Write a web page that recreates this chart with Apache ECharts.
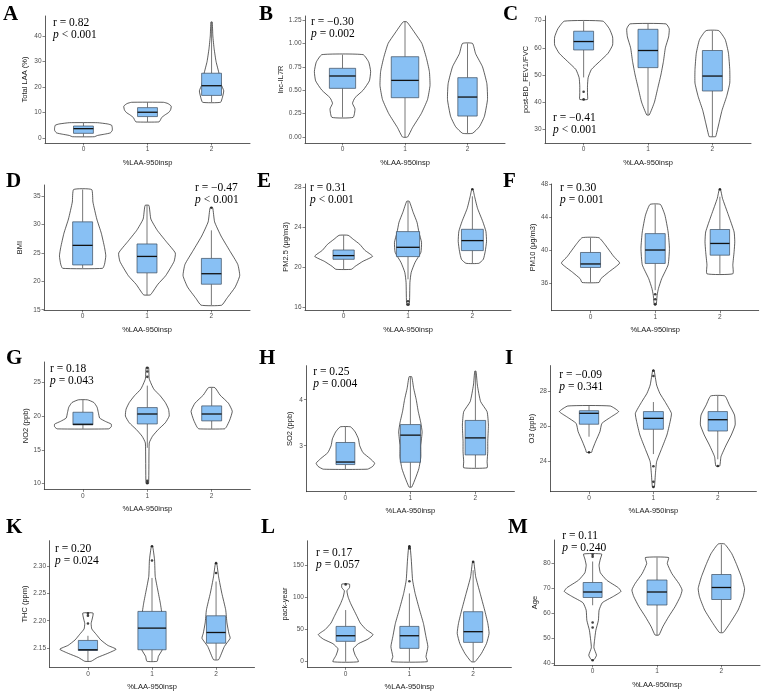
<!DOCTYPE html>
<html><head><meta charset="utf-8">
<script src="https://cdn.jsdelivr.net/npm/echarts@6/dist/echarts.min.js"></script>
<style>html,body{margin:0;padding:0;background:#fff}#c{width:768px;height:693px}</style>
</head><body><div id="c"></div>
<script>
// ---------- DATA ----------
const categories = [0, 1, 2];
const xAxisTitle = '%LAA-950insp';

// violin profiles per group: [value, half-width in category units], top to bottom
const violinA = [
  [[6.0,0.22],[5.5,0.38],[5.0,0.44],[4.0,0.45],[3.0,0.45],[2.0,0.42],[1.5,0.33],[1.0,0.22],[0.5,0.17]],
  [[14.0,0.25],[13.5,0.32],[12.5,0.37],[11,0.36],[10,0.33],[9,0.27],[8,0.22],[7,0.2],[6.3,0.18]],
  [[45.5,0.01],[40,0.02],[35,0.04],[30,0.07],[25,0.12],[21,0.15],[18.5,0.19],[16,0.17],[14,0.14]]
];
const boxA = [[0.5,1.83,3.66,4.7,6.0],[6.3,8.4,10.1,11.9,14.0],[14.0,16.7,20.5,25.4,45.5]];
const outA = [];

const violinB = [
  [[0.88,0.33],[0.80,0.42],[0.70,0.45],[0.60,0.43],[0.50,0.33],[0.42,0.2],[0.36,0.16],[0.30,0.2],[0.21,0.17]],
  [[1.23,0.03],[1.1,0.17],[1.0,0.27],[0.85,0.34],[0.7,0.39],[0.55,0.4],[0.4,0.36],[0.25,0.26],[0.1,0.12],[0.0,0.04]],
  [[1.0,0.08],[0.89,0.13],[0.75,0.24],[0.57,0.31],[0.4,0.32],[0.22,0.27],[0.11,0.19],[0.04,0.08]]
];
const boxB = [[0.21,0.52,0.652,0.734,0.88],[0.0,0.42,0.605,0.858,1.23],[0.04,0.224,0.427,0.634,1.0]];
const outB = [];

const violinC = [
  [[69.8,0.3],[67,0.4],[64,0.45],[61,0.45],[58,0.38],[55,0.25],[52,0.12],[49,0.07],[46,0.06],[43,0.06],[41,0.06]],
  [[68.8,0.28],[67,0.33],[64,0.32],[60,0.27],[55,0.24],[50,0.2],[45,0.15],[40,0.1],[35.3,0.02]],
  [[66.3,0.1],[63,0.2],[58,0.25],[52,0.27],[47,0.27],[42,0.22],[37,0.15],[32,0.1],[28,0.06],[27.3,0.05]]
];
const boxC = [[49.1,59.2,62.3,66.1,69.8],[35.3,52.7,59.0,66.8,68.8],[27.3,44.1,49.6,59.0,66.3]];
const outC = [[0,43.8],[0,41.0]];

const violinD = [
  [[36.2,0.14],[34,0.16],[31,0.22],[28.5,0.29],[26,0.34],[24.5,0.36],[23,0.34],[22.3,0.31]],
  [[33.4,0.03],[31,0.06],[29,0.16],[27,0.3],[25,0.44],[23.5,0.42],[21,0.29],[19.5,0.17],[18,0.08],[17.6,0.05]],
  [[33.0,0.02],[30.5,0.05],[28,0.15],[25.5,0.28],[23,0.41],[21,0.44],[19,0.37],[17,0.24],[15.8,0.16]]
];
const boxD = [[22.3,22.9,26.35,30.5,36.2],[17.6,21.5,24.4,26.6,33.4],[15.8,19.5,21.35,24.05,29.0]];
const outD = [[2,33.0]];

const violinE = [
  [[23.2,0.07],[22.8,0.15],[22.3,0.25],[21.7,0.33],[21.1,0.45],[20.6,0.3],[20.1,0.18],[19.8,0.12]],
  [[26.6,0.02],[25.5,0.08],[24.5,0.14],[23.5,0.17],[22.5,0.21],[21.5,0.2],[20.5,0.11],[19.5,0.05],[18.5,0.03],[16.2,0.02]],
  [[27.8,0.01],[27.2,0.03],[25.9,0.08],[24.6,0.16],[23.6,0.21],[22.6,0.22],[21.6,0.2],[20.8,0.17],[20.4,0.1]]
];
const boxE = [[19.8,20.8,21.17,21.73,23.2],[18.8,21.07,22.0,23.57,26.57],[20.4,21.67,22.67,23.8,27.1]];
const outE = [[1,16.3],[1,16.6],[2,27.8]];

const violinF = [
  [[41.5,0.13],[40.6,0.23],[39.2,0.36],[38.4,0.45],[37.3,0.28],[36.5,0.16],[36.04,0.13]],
  [[45.56,0.08],[44.26,0.15],[42.2,0.2],[40.2,0.22],[38.2,0.2],[36.5,0.1],[35.3,0.05],[34.5,0.03],[33.3,0.015]],
  [[47.4,0.01],[46.3,0.04],[44.3,0.13],[42.2,0.22],[41.0,0.23],[39.8,0.22],[38.2,0.2],[37.1,0.2]]
];
const boxF = [[36.04,37.87,38.3,39.7,41.5],[35.1,38.36,40.0,42.0,45.56],[37.1,39.37,40.8,42.5,46.5]];
const outF = [[1,34.6],[1,34.0],[1,33.4],[2,47.4]];

const violinG = [
  [[22.4,0.07],[22.0,0.17],[21.3,0.22],[20.5,0.24],[19.7,0.26],[19.2,0.35],[18.8,0.44],[18.4,0.44],[18.1,0.4]],
  [[27.2,0.02],[25.5,0.03],[24,0.1],[23,0.2],[22,0.28],[21,0.33],[20,0.34],[19,0.28],[18,0.17],[17,0.08],[16,0.03],[10,0.02]],
  [[24.2,0.05],[23.1,0.13],[21.9,0.26],[20.7,0.32],[19.4,0.28],[18.4,0.23],[18.1,0.2]]
];
const boxG = [[18.1,18.69,18.78,20.56,22.4],[15.3,18.83,20.3,21.25,24.5],[18.1,19.28,20.3,21.5,24.2]];
const outG = [[1,27.1],[1,26.6],[1,25.8],[1,10.1],[1,10.4]];

const violinH = [
  [[3.41,0.08],[3.3,0.15],[3.15,0.2],[3.0,0.22],[2.85,0.27],[2.72,0.38],[2.62,0.45],[2.55,0.42],[2.49,0.34]],
  [[4.5,0.02],[4.25,0.05],[4.0,0.09],[3.75,0.12],[3.5,0.16],[3.3,0.18],[3.0,0.16],[2.75,0.16],[2.5,0.13],[2.3,0.08],[2.1,0.02]],
  [[4.62,0.01],[4.32,0.03],[3.96,0.08],[3.74,0.18],[3.45,0.2],[3.09,0.19],[2.87,0.19],[2.65,0.18],[2.52,0.18]]
];
const boxH = [[2.49,2.59,2.645,3.07,3.41],[2.1,2.64,3.23,3.46,4.5],[2.52,2.8,3.17,3.55,4.62]];
const outH = [];

const violinI = [
  [[27.17,0.33],[26.85,0.46],[26.56,0.35],[26.17,0.2],[25.7,0.17],[25.1,0.1],[24.63,0.05],[24.5,0.04]],
  [[29.25,0.01],[28.38,0.05],[27.9,0.1],[27.42,0.18],[26.75,0.28],[26.27,0.26],[25.5,0.21],[24.73,0.13],[23.96,0.05],[23.2,0.03],[22.5,0.015]],
  [[27.75,0.11],[27.23,0.18],[26.65,0.26],[26.08,0.27],[25.5,0.21],[24.92,0.13],[24.25,0.05],[23.71,0.03]]
];
const boxI = [[25.4,26.12,26.75,26.9,27.17],[24.4,25.83,26.46,26.85,27.4],[24.1,25.73,26.38,26.85,27.75]];
const outI = [[0,24.5],[1,29.2],[1,28.9],[1,22.5],[1,22.8],[1,23.7],[2,23.71]];

const violinK = [
  [[2.214,0.08],[2.205,0.07],[2.195,0.05],[2.185,0.06],[2.175,0.13],[2.165,0.2],[2.155,0.31],[2.148,0.44],[2.14,0.3],[2.133,0.15],[2.126,0.05]],
  [[2.336,0.01],[2.311,0.04],[2.281,0.05],[2.256,0.09],[2.232,0.13],[2.208,0.16],[2.183,0.17],[2.159,0.17],[2.147,0.16],[2.135,0.1],[2.126,0.08]],
  [[2.305,0.01],[2.28,0.04],[2.25,0.09],[2.22,0.15],[2.196,0.17],[2.177,0.2],[2.168,0.22],[2.153,0.13],[2.129,0.04]]
];
const boxK = [[2.126,2.1457,2.147,2.164,2.1725],[2.126,2.147,2.1865,2.217,2.278],[2.129,2.159,2.1785,2.209,2.2715]];
const outK = [[0,2.213],[0,2.209],[0,2.195],[1,2.336],[1,2.31],[2,2.305],[2,2.287]];

const violinL = [
  [[120.5,0.06],[115,0.06],[110,0.02],[100,0.04],[90,0.08],[80,0.13],[70,0.18],[60,0.23],[50,0.32],[42,0.43],[35,0.35],[28,0.2],[20,0.12],[10,0.15],[0,0.2]],
  [[179.5,0.01],[157.8,0.03],[126.7,0.05],[106,0.09],[80.2,0.16],[59.5,0.22],[38.8,0.26],[23.3,0.29],[7.8,0.26],[0,0.28]],
  [[155.2,0.01],[131.9,0.04],[106,0.11],[80.2,0.18],[59.5,0.23],[44,0.25],[28.4,0.21],[12.9,0.13],[0,0.03]]
];
const boxL = [[0,31.6,40.3,54.8,80.2],[0,20.7,40.3,54.8,106],[0,30,46.6,77.6,142]];
const outL = [[0,120],[1,179],[1,176],[1,125],[2,155]];

const violinM = [
  [[83.5,0.14],[81.5,0.12],[79,0.1],[76,0.12],[73,0.22],[70,0.4],[68.5,0.44],[66.5,0.32],[64,0.15],[61,0.1],[57,0.09],[53,0.05],[49,0.03],[46,0.02],[43,0.06],[41.5,0.03],[41,0.01]],
  [[82.1,0.18],[79.7,0.16],[75.7,0.23],[71.7,0.34],[69.1,0.39],[66.4,0.36],[62.4,0.28],[58.4,0.18],[54.4,0.09],[51.1,0.03]],
  [[87.5,0.05],[83.7,0.16],[79.7,0.23],[74.4,0.31],[69.7,0.36],[66.4,0.34],[61.1,0.26],[55.7,0.13],[52.1,0.03]]
];
const boxM = [[63,66.1,68.3,72.1,80.5],[51.1,63.1,68.3,73.1,82.1],[52.1,65.3,70.1,75.3,87.3]];
const outM = [[0,83.2],[0,82.4],[0,56.1],[0,54.1],[0,41.0]];

const yTitles = ['Total LAA (%)','lnc-IL7R','post-BD_FEV1/FVC','BMI','PM2.5 (μg/m3)','PM10 (μg/m3)','NO2 (ppb)','SO2 (ppb)','O3 (ppb)','THC (ppm)','pack-year','Age'];
const yTickValues = [[0,10,20,30,40],[0,0.25,0.5,0.75,1,1.25],[30,40,50,60,70],[15,20,25,30,35],[16,20,24,28],[36,40,44,48],[10,15,20,25],[3,4],[24,26,28],[2.15,2.2,2.25,2.3],[0,50,100,150],[40,50,60,70,80]];
const rValues = ['0.82','−0.30','−0.41','−0.47','0.31','0.30','0.18','0.25','−0.09','0.20','0.17','0.11'];
const pValues = ['< 0.001','= 0.002','< 0.001','< 0.001','< 0.001','= 0.001','= 0.043','= 0.004','= 0.341','= 0.024','= 0.057','= 0.240'];
const letters = ['A','B','C','D','E','F','G','H','I','K','L','M'];

// ---------- LAYOUT ----------
const P = [
 {v:violinA,b:boxA,o:outA,bw:[0.155,0.155,0.155],left:45,top:16,w:205,h:127,ymin:-1.96,ymax:47.84,dec:0,yd:20,lx:3,ly:15,rx:53,ry:23},
 {v:violinB,b:boxB,o:outB,bw:[0.21,0.22,0.155],left:305,top:16,w:200,h:127,ymin:-0.064,ymax:1.293,dec:2,yd:21.7,lx:259,ly:15,rx:311,ry:22},
 {v:violinC,b:boxC,o:outC,bw:[0.155,0.155,0.155],left:545,top:16,w:206,h:127,ymin:24.96,ymax:71.7,dec:0,yd:17.7,lx:503,ly:15,rx:553,ry:118.3},
 {v:violinD,b:boxD,o:outD,bw:[0.155,0.155,0.155],left:44,top:185,w:206,h:125,ymin:14.95,ymax:37.0,dec:0,yd:24,lx:6,ly:182,rx:195,ry:187.7},
 {v:violinE,b:boxE,o:outE,bw:[0.165,0.18,0.17],left:305,top:184,w:206,h:126,ymin:15.73,ymax:28.33,dec:0,yd:18.3,lx:257,ly:182,rx:310,ry:188.3},
 {v:violinF,b:boxF,o:outF,bw:[0.155,0.155,0.15],left:551.7,top:184,w:207,h:126.7,ymin:32.6,ymax:48.05,dec:0,yd:19,lx:503,ly:182,rx:560,ry:188.3},
 {v:violinG,b:boxG,o:outG,bw:[0.155,0.155,0.155],left:44.3,top:362,w:206,h:127.3,ymin:9.15,ymax:28.0,dec:0,yd:18.3,lx:6,ly:359,rx:50,ry:369.3},
 {v:violinH,b:boxH,o:outH,bw:[0.145,0.155,0.158],left:306.4,top:365.7,w:208,h:126,ymin:2.0,ymax:4.74,dec:0,yd:16.4,lx:259,ly:359,rx:313.3,ry:371.7},
 {v:violinI,b:boxI,o:outI,bw:[0.15,0.155,0.15],left:550.4,top:365.6,w:206,h:126.1,ymin:22.23,ymax:29.5,dec:0,yd:18.7,lx:505,ly:359,rx:559.3,ry:375},
 {v:violinK,b:boxK,o:outK,bw:[0.15,0.22,0.15],left:49.5,top:540.7,w:205,h:126.6,ymin:2.115,ymax:2.346,dec:2,yd:24.5,lx:6,ly:528,rx:55,ry:549.3},
 {v:violinL,b:boxL,o:outL,bw:[0.15,0.15,0.15],left:307.4,top:540.8,w:204,h:126.5,ymin:-8.7,ymax:187.7,dec:0,yd:20.7,lx:261,ly:528,rx:316,ry:552.7},
 {v:violinM,b:boxM,o:outM,bw:[0.147,0.155,0.15],left:554,top:540,w:206,h:125,ymin:39.1,ymax:89.1,dec:0,yd:17.3,lx:508,ly:528,rx:562.3,ry:535.7}
];
const SANS = 'Liberation Sans, Arial, sans-serif';
const SERIF = 'Liberation Serif, Times New Roman, serif';

const grids = [], xAxes = [], yAxes = [], series = [], graphics = [];
P.forEach((p, i) => {
  grids.push({left:p.left, top:p.top, width:p.w, height:p.h, containLabel:false});
  xAxes.push({type:'value', gridIndex:i, min:-0.6, max:2.6,
    axisLine:{show:true, onZero:false, lineStyle:{color:'#333', width:0.8}},
    axisTick:{show:true, customValues:categories, length:2.5, lineStyle:{color:'#333', width:0.6}},
    axisLabel:{show:true, customValues:categories, fontSize:6.5, color:'#4d4d4d', margin:3, fontFamily:SANS},
    splitLine:{show:false},
    name:xAxisTitle, nameLocation:'middle', nameGap:15.5,
    nameTextStyle:{fontSize:7.5, color:'#1a1a1a', fontFamily:SANS}});
  yAxes.push({type:'value', gridIndex:i, min:p.ymin, max:p.ymax,
    axisLine:{show:true, onZero:false, lineStyle:{color:'#333', width:0.8}},
    axisTick:{show:true, customValues:yTickValues[i], length:2.5, lineStyle:{color:'#333', width:0.6}},
    axisLabel:{show:true, customValues:yTickValues[i], fontSize:6.5, color:'#4d4d4d', margin:3.5, fontFamily:SANS,
      formatter:(val)=>Number(val).toFixed(p.dec)},
    splitLine:{show:false},
    name:yTitles[i], nameLocation:'middle', nameRotate:90, nameGap:p.yd-4,
    nameTextStyle:{fontSize:7.5, color:'#1a1a1a', fontFamily:SANS}});

  const prof = p.v;
  series.push({type:'custom', xAxisIndex:i, yAxisIndex:i, silent:true,
    data:categories.map(g=>[g, prof[g][0][0]]),
    renderItem:(params, api)=>{
      const g = api.value(0);
      const pr = prof[g];
      const pts = [];
      for (let k=0;k<pr.length;k++) pts.push(api.coord([g + pr[k][1], pr[k][0]]));
      for (let k=pr.length-1;k>=0;k--) pts.push(api.coord([g - pr[k][1], pr[k][0]]));
      return {type:'polygon', shape:{points:pts, smooth:0.15}, style:{fill:'#fff', stroke:'#1a1a1a', lineWidth:0.7}};
    }});

  const bx = p.b, bw = p.bw;
  series.push({type:'custom', xAxisIndex:i, yAxisIndex:i, silent:true,
    data:categories.map(g=>[g, bx[g][2]]),
    renderItem:(params, api)=>{
      const g = api.value(0);
      const hw = bw[g];
      const [mn,q1,md,q3,mx] = bx[g];
      const c = (x,y)=>api.coord([x,y]);
      const lo = c(g,mn), a = c(g,q1), bq = c(g,q3), hi = c(g,mx);
      const tl = c(g-hw,q3), br = c(g+hw,q1);
      const ml = c(g-hw,md), mr = c(g+hw,md);
      return {type:'group', children:[
        {type:'line', shape:{x1:lo[0],y1:lo[1],x2:a[0],y2:a[1]}, style:{stroke:'#555', lineWidth:0.8}},
        {type:'line', shape:{x1:bq[0],y1:bq[1],x2:hi[0],y2:hi[1]}, style:{stroke:'#555', lineWidth:0.8}},
        {type:'rect', shape:{x:tl[0],y:tl[1],width:br[0]-tl[0],height:br[1]-tl[1]}, style:{fill:'#88C0F4', stroke:'#3b4a5c', lineWidth:0.7}},
        {type:'line', shape:{x1:ml[0],y1:ml[1],x2:mr[0],y2:mr[1]}, style:{stroke:'#111', lineWidth:1.3}}
      ]};
    }});

  series.push({type:'scatter', xAxisIndex:i, yAxisIndex:i, silent:true, symbolSize:2.6,
    itemStyle:{color:'#111'}, data:p.o});

  graphics.push({type:'text', left:p.lx, top:p.ly-11, style:{text:letters[i], font:'bold 21px '+SERIF, fill:'#000'}});
  graphics.push({type:'text', x:p.rx, y:p.ry, style:{text:'r = '+rValues[i], font:'11.5px '+SERIF, fill:'#000', verticalAlign:'middle'}});
  graphics.push({type:'text', x:p.rx, y:p.ry+12, style:{
    text:'{i|p} '+pValues[i], verticalAlign:'middle',
    rich:{i:{fontStyle:'italic', fontSize:11.5, fontFamily:SERIF}},
    font:'11.5px '+SERIF, fill:'#000'}});
});

const chart = echarts.init(document.getElementById('c'), null, {renderer:'canvas'});
chart.setOption({animation:false, backgroundColor:'#fff', grid:grids, xAxis:xAxes, yAxis:yAxes, series:series, graphic:graphics});
</script></body></html>
